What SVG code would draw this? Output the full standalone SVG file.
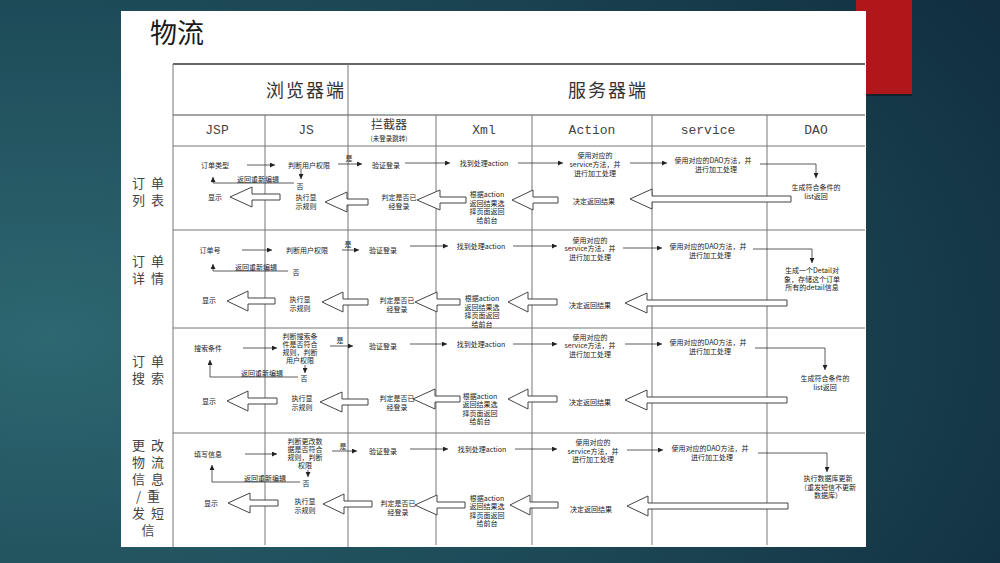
<svg xmlns="http://www.w3.org/2000/svg" width="1000" height="563" viewBox="0 0 1000 563">
<defs>
<radialGradient id="bg" cx="0.05" cy="0.6" r="1.1">
<stop offset="0" stop-color="#2d6770"/>
<stop offset="0.5" stop-color="#1f4d5a"/>
<stop offset="1" stop-color="#112f3f"/>
</radialGradient>
<marker id="ah" viewBox="0 0 6 6" refX="6" refY="3" markerWidth="5" markerHeight="5" markerUnits="userSpaceOnUse" orient="auto">
<path d="M0,0 L6,3 L0,6 z" fill="#222"/>
</marker>
<style>
.t{font-family:"Noto Sans CJK SC","Noto Sans",sans-serif;font-size:7px;fill:#222;text-anchor:middle;dominant-baseline:central}
.rl{font-family:"Noto Sans CJK SC",sans-serif;font-size:13px;fill:#444;text-anchor:middle;dominant-baseline:central;letter-spacing:6px}
.hd{font-family:"Noto Sans CJK SC",sans-serif;font-size:18px;fill:#333;dominant-baseline:central;letter-spacing:2px}
.ch{font-family:"Liberation Mono","Noto Sans CJK SC",monospace;font-size:13px;fill:#444;text-anchor:middle;dominant-baseline:central}
.grid{stroke:#777;stroke-width:1;fill:none}
.ca{stroke:#333;stroke-width:0.8;fill:none;marker-end:url(#ah)}
.blk{fill:#fff;stroke:#444;stroke-width:1}
</style>
</defs>
<rect width="1000" height="563" fill="url(#bg)"/>
<rect x="856" y="2" width="56" height="94" fill="#0a0a0a" opacity="0.45"/>
<rect x="856" y="0" width="56" height="94" fill="#b0171a"/>
<rect x="121" y="11" width="745" height="536" fill="#fff"/>
<text x="150" y="31" style="font-family:'Noto Sans CJK SC',sans-serif;font-size:27px;fill:#1a1a1a;dominant-baseline:central">物流</text>

<g id="table">
<line x1="173" y1="64" x2="865" y2="64" stroke="#333" stroke-width="1.6"/>
<line x1="173" y1="115" x2="865" y2="115" stroke="#888" stroke-width="1.5"/>
<path class="grid" d="M173,146H865M173,230H865M173,328H865M173,433H865"/>
<path class="grid" d="M173,64V547M348,64V547M265,115V545M436,115V545M532,115V545M652,115V545M767,115V545"/>
</g>

<g id="headers">
<text class="hd" x="266" y="89">浏览器端</text>
<text class="hd" x="568" y="89">服务器端</text>
<text class="ch" x="217" y="130">JSP</text>
<text class="ch" x="306" y="130">JS</text>
<text class="t" x="389" y="123" style="font-size:12px;fill:#333">拦截器</text>
<text class="t" x="389" y="138" style="font-size:6.5px">(未登录跳转)</text>
<text class="ch" x="484" y="130">Xml</text>
<text class="ch" x="592" y="130">Action</text>
<text class="ch" x="708" y="130">service</text>
<text class="ch" x="816" y="130">DAO</text>
</g>

<g id="row-labels">
<text class="rl" x="151" y="182">订单</text>
<text class="rl" x="151" y="199">列表</text>
<text class="rl" x="151" y="260">订单</text>
<text class="rl" x="151" y="277">详情</text>
<text class="rl" x="151" y="360">订单</text>
<text class="rl" x="151" y="377">搜索</text>
<text class="rl" x="151" y="444">更改</text>
<text class="rl" x="151" y="461">物流</text>
<text class="rl" x="151" y="478">信息</text>
<text class="rl" x="151" y="495">/重</text>
<text class="rl" x="151" y="512">发短</text>
<text class="rl" x="151" y="529">信</text>
</g>

<g id="connectors">
<!-- row 1 -->
<line class="ca" x1="247" y1="165" x2="275" y2="165"/>
<line class="ca" x1="301" y1="169" x2="301" y2="179"/>
<polyline class="ca" points="294,183 213,183 213,177"/>
<line class="ca" x1="338" y1="164" x2="362" y2="164"/>
<line class="ca" x1="405" y1="163" x2="450" y2="163"/>
<line class="ca" x1="518" y1="163" x2="563" y2="163"/>
<line class="ca" x1="630" y1="163" x2="667" y2="163"/>
<polyline class="ca" points="760,164 816,164 816,178"/>
<polygon class="blk" points="630,199 652,189 652,196 791,196 791,202 652,202 652,209"/>
<polygon class="blk" points="512,200 533,190 533,197 558,197 558,203 533,203 533,210"/>
<polygon class="blk" points="417,200 440,190 440,197 466,197 466,203 440,203 440,210"/>
<polygon class="blk" points="325,202 347,192 347,199 368,199 368,205 347,205 347,212"/>
<polygon class="blk" points="230,197 252,187 252,194 280,194 280,200 252,200 252,207"/>
<!-- row 2 -->
<line class="ca" x1="242" y1="250" x2="272" y2="250"/>
<polyline class="ca" points="288,271 213,271 213,264"/>
<line class="ca" x1="342" y1="250" x2="359" y2="250"/>
<line class="ca" x1="410" y1="246" x2="448" y2="246"/>
<line class="ca" x1="513" y1="246" x2="557" y2="246"/>
<line class="ca" x1="623" y1="248" x2="662" y2="248"/>
<polyline class="ca" points="753,249 812,249 812,263"/>
<polygon class="blk" points="625,303 647,293 647,300 787,300 787,306 647,306 647,313"/>
<polygon class="blk" points="508,302 528,292 528,299 557,299 557,305 528,305 528,312"/>
<polygon class="blk" points="415,302 437,292 437,299 460,299 460,305 437,305 437,312"/>
<polygon class="blk" points="322,302 343,292 343,299 368,299 368,305 343,305 343,312"/>
<polygon class="blk" points="227,301 248,291 248,298 275,298 275,304 248,304 248,311"/>
<!-- row 3 -->
<line class="ca" x1="243" y1="348" x2="277" y2="348"/>
<line class="ca" x1="305" y1="365" x2="305" y2="373"/>
<polyline class="ca" points="298,377 210,377 210,360"/>
<line class="ca" x1="330" y1="346" x2="353" y2="346"/>
<line class="ca" x1="410" y1="344" x2="447" y2="344"/>
<line class="ca" x1="513" y1="344" x2="557" y2="344"/>
<line class="ca" x1="625" y1="344" x2="662" y2="344"/>
<polyline class="ca" points="755,348 825,348 825,370"/>
<polygon class="blk" points="625,400 647,390 647,397 787,397 787,403 647,403 647,410"/>
<polygon class="blk" points="508,399 528,389 528,396 557,396 557,402 528,402 528,409"/>
<polygon class="blk" points="413,399 435,389 435,396 460,396 460,402 435,402 435,409"/>
<polygon class="blk" points="320,402 342,392 342,399 368,399 368,405 342,405 342,412"/>
<polygon class="blk" points="227,401 248,391 248,398 277,398 277,404 248,404 248,411"/>
<!-- row 4 -->
<line class="ca" x1="245" y1="454" x2="277" y2="454"/>
<line class="ca" x1="308" y1="470" x2="308" y2="477"/>
<polyline class="ca" points="300,482 212,482 212,465"/>
<line class="ca" x1="332" y1="451" x2="357" y2="451"/>
<line class="ca" x1="410" y1="449" x2="448" y2="449"/>
<line class="ca" x1="515" y1="449" x2="557" y2="449"/>
<line class="ca" x1="627" y1="450" x2="663" y2="450"/>
<polyline class="ca" points="758,453 827,453 827,472"/>
<polygon class="blk" points="627,506 648,496 648,503 788,503 788,509 648,509 648,516"/>
<polygon class="blk" points="510,505 530,495 530,502 558,502 558,508 530,508 530,515"/>
<polygon class="blk" points="415,505 437,495 437,502 465,502 465,508 437,508 437,515"/>
<polygon class="blk" points="323,504 344,494 344,501 372,501 372,507 344,507 344,514"/>
<polygon class="blk" points="228,503 250,493 250,500 278,500 278,506 250,506 250,513"/>
</g>

<g id="row1">
<g id="r1-input"><text class="t" x="215" y="165">订单类型</text></g>
<g id="r1-js"><text class="t" x="309" y="165">判断用户权限</text></g>
<g id="r1-yes"><text class="t" x="349" y="158">是</text></g>
<g id="r1-no"><text class="t" x="300" y="186">否</text></g>
<g id="r1-back"><text class="t" x="258" y="179">返回重新编辑</text></g>
<g id="r1-login"><text class="t" x="386" y="165">验证登录</text></g>
<g id="r1-xml"><text class="t" x="484" y="163">找到处理action</text></g>
<g id="r1-action"><text class="t" x="595" y="155">使用对应的</text><text class="t" x="595" y="164">service方法，并</text><text class="t" x="595" y="173">进行加工处理</text></g>
<g id="r1-service"><text class="t" x="713" y="160">使用对应的DAO方法，并</text><text class="t" x="716" y="169">进行加工处理</text></g>
<g id="r1-dao"><text class="t" x="816" y="187">生成符合条件的</text><text class="t" x="816" y="196">list返回</text></g>
<g id="r1-decide"><text class="t" x="594" y="201">决定返回结果</text></g>
<g id="r1-xmlret"><text class="t" x="487" y="194">根据action</text><text class="t" x="487" y="202.5">返回结果选</text><text class="t" x="487" y="211">择页面返回</text><text class="t" x="487" y="219.5">给前台</text></g>
<g id="r1-check"><text class="t" x="399" y="197">判定是否已</text><text class="t" x="399" y="205.5">经登录</text></g>
<g id="r1-exec"><text class="t" x="306" y="197">执行显</text><text class="t" x="306" y="205.5">示规则</text></g>
<g id="r1-show"><text class="t" x="215" y="197">显示</text></g>
</g>

<g id="row2">
<g id="r2-input"><text class="t" x="210" y="250">订单号</text></g>
<g id="r2-js"><text class="t" x="307" y="250">判断用户权限</text></g>
<g id="r2-yes"><text class="t" x="348" y="244">是</text></g>
<g id="r2-no"><text class="t" x="296" y="272">否</text></g>
<g id="r2-back"><text class="t" x="256" y="267">返回重新编辑</text></g>
<g id="r2-login"><text class="t" x="383" y="250">验证登录</text></g>
<g id="r2-xml"><text class="t" x="481" y="246">找到处理action</text></g>
<g id="r2-action"><text class="t" x="590" y="239.5">使用对应的</text><text class="t" x="590" y="248">service方法，并</text><text class="t" x="590" y="256.5">进行加工处理</text></g>
<g id="r2-service"><text class="t" x="708" y="246">使用对应的DAO方法，并</text><text class="t" x="710" y="254.5">进行加工处理</text></g>
<g id="r2-dao"><text class="t" x="812" y="270">生成一个Detail对</text><text class="t" x="812" y="278.5">象，存储这个订单</text><text class="t" x="812" y="287">所有的detail信息</text></g>
<g id="r2-decide"><text class="t" x="590" y="305">决定返回结果</text></g>
<g id="r2-xmlret"><text class="t" x="482" y="298">根据action</text><text class="t" x="482" y="306.5">返回结果选</text><text class="t" x="482" y="315">择页面返回</text><text class="t" x="482" y="323.5">给前台</text></g>
<g id="r2-check"><text class="t" x="397" y="300">判定是否已</text><text class="t" x="397" y="308.5">经登录</text></g>
<g id="r2-exec"><text class="t" x="300" y="299">执行显</text><text class="t" x="300" y="307.5">示规则</text></g>
<g id="r2-show"><text class="t" x="209" y="300">显示</text></g>
</g>

<g id="row3">
<g id="r3-input"><text class="t" x="208" y="348">搜索条件</text></g>
<g id="r3-js"><text class="t" x="300" y="336">判断搜索条</text><text class="t" x="300" y="344">件是否符合</text><text class="t" x="300" y="352">规则，判断</text><text class="t" x="300" y="360">用户权限</text></g>
<g id="r3-yes"><text class="t" x="340" y="340">是</text></g>
<g id="r3-no"><text class="t" x="304" y="378">否</text></g>
<g id="r3-back"><text class="t" x="262" y="373">返回重新编辑</text></g>
<g id="r3-login"><text class="t" x="383" y="346">验证登录</text></g>
<g id="r3-xml"><text class="t" x="481" y="344">找到处理action</text></g>
<g id="r3-action"><text class="t" x="590" y="336.5">使用对应的</text><text class="t" x="590" y="345">service方法，并</text><text class="t" x="590" y="353.5">进行加工处理</text></g>
<g id="r3-service"><text class="t" x="708" y="342">使用对应的DAO方法，并</text><text class="t" x="710" y="350.5">进行加工处理</text></g>
<g id="r3-dao"><text class="t" x="825" y="378">生成符合条件的</text><text class="t" x="825" y="386.5">list返回</text></g>
<g id="r3-decide"><text class="t" x="590" y="402">决定返回结果</text></g>
<g id="r3-xmlret"><text class="t" x="480" y="395.5">根据action</text><text class="t" x="480" y="404">返回结果选</text><text class="t" x="480" y="412.5">择页面返回</text><text class="t" x="480" y="421">给前台</text></g>
<g id="r3-check"><text class="t" x="397" y="398">判定是否已</text><text class="t" x="397" y="406.5">经登录</text></g>
<g id="r3-exec"><text class="t" x="302" y="398">执行显</text><text class="t" x="302" y="406.5">示规则</text></g>
<g id="r3-show"><text class="t" x="209" y="401">显示</text></g>
</g>

<g id="row4">
<g id="r4-input"><text class="t" x="208" y="454">填写信息</text></g>
<g id="r4-js"><text class="t" x="305" y="441">判断更改数</text><text class="t" x="305" y="449">据是否符合</text><text class="t" x="305" y="457">规则，判断</text><text class="t" x="305" y="465">权限</text></g>
<g id="r4-yes"><text class="t" x="343" y="446">是</text></g>
<g id="r4-no"><text class="t" x="306" y="483">否</text></g>
<g id="r4-back"><text class="t" x="265" y="478">返回重新编辑</text></g>
<g id="r4-login"><text class="t" x="383" y="451">验证登录</text></g>
<g id="r4-xml"><text class="t" x="482" y="449">找到处理action</text></g>
<g id="r4-action"><text class="t" x="593" y="442">使用对应的</text><text class="t" x="593" y="450.5">service方法，并</text><text class="t" x="593" y="459">进行加工处理</text></g>
<g id="r4-service"><text class="t" x="710" y="448">使用对应的DAO方法，并</text><text class="t" x="712" y="456.5">进行加工处理</text></g>
<g id="r4-dao"><text class="t" x="828" y="478">执行数据库更新</text><text class="t" x="828" y="486.5">（重发短信不更新</text><text class="t" x="828" y="495">数据库）</text></g>
<g id="r4-decide"><text class="t" x="591" y="509">决定返回结果</text></g>
<g id="r4-xmlret"><text class="t" x="487" y="497.5">根据action</text><text class="t" x="487" y="506">返回结果选</text><text class="t" x="487" y="514.5">择页面返回</text><text class="t" x="487" y="523">给前台</text></g>
<g id="r4-check"><text class="t" x="398" y="503">判定是否已</text><text class="t" x="398" y="511.5">经登录</text></g>
<g id="r4-exec"><text class="t" x="305" y="501">执行显</text><text class="t" x="305" y="509.5">示规则</text></g>
<g id="r4-show"><text class="t" x="211" y="503">显示</text></g>
</g>
</svg>
